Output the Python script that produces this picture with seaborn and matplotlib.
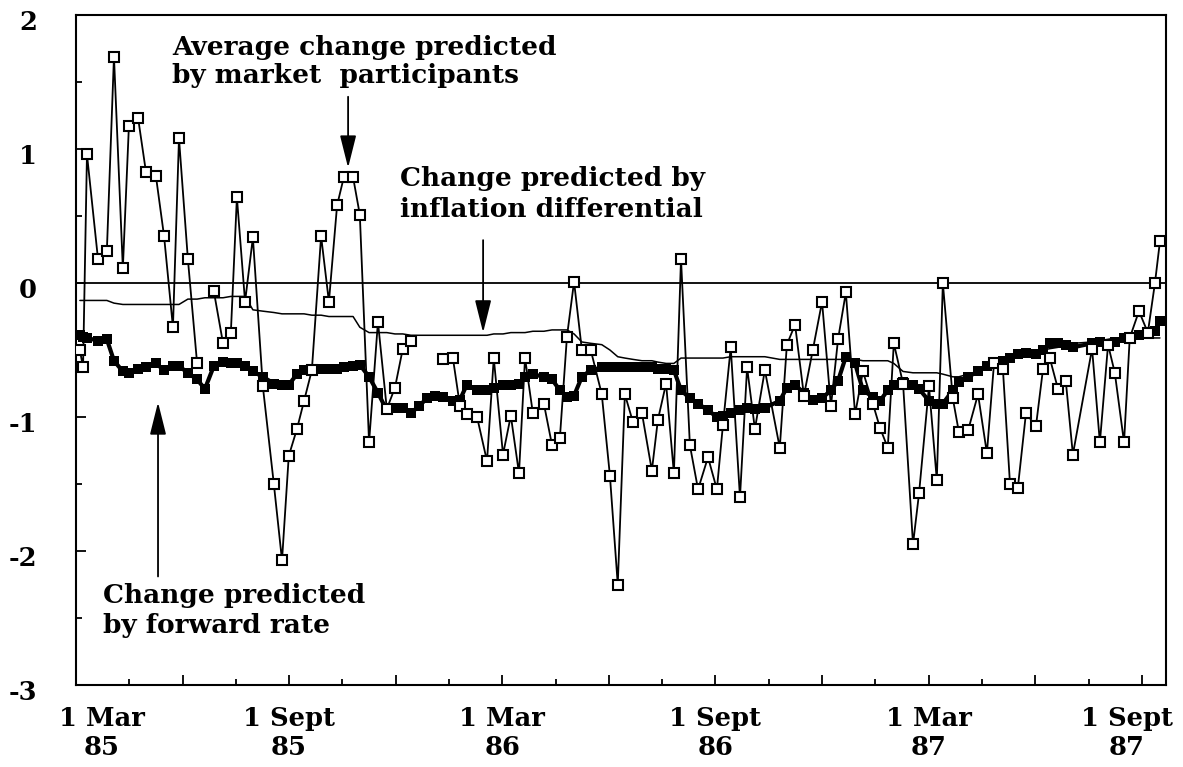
import numpy as np
import pandas as pd
import matplotlib.pyplot as plt
import matplotlib.transforms as mtransforms
import seaborn as sns

# months after 1 March 1985 (weekly observations)
months = [0.11, 0.20, 0.31, 0.62, 0.87, 1.07, 1.32, 1.49, 1.75, 1.97,
          2.25, 2.48, 2.73, 2.90, 3.15, 3.41, 3.63, 3.88, 4.14, 4.36,
          4.53, 4.76, 4.98, 5.26, 5.57, 5.80, 5.99, 6.22, 6.42, 6.64,
          6.90, 7.12, 7.35, 7.54, 7.80, 7.99, 8.25, 8.50, 8.75, 8.98,
          9.20, 9.43, 9.65, 9.88, 10.10, 10.33, 10.61, 10.81, 11.00, 11.29,
          11.57, 11.76, 12.02, 12.24, 12.47, 12.64, 12.86, 13.17, 13.40, 13.62,
          13.82, 14.02, 14.24, 14.49, 14.80, 15.03, 15.25, 15.45, 15.68, 15.93,
          16.21, 16.38, 16.61, 16.83, 17.03, 17.28, 17.51, 17.79, 18.04, 18.21,
          18.43, 18.69, 18.89, 19.11, 19.39, 19.81, 20.01, 20.24, 20.49, 20.74,
          21.00, 21.25, 21.45, 21.67, 21.93, 22.15, 22.43, 22.63, 22.85, 23.02,
          23.28, 23.56, 23.73, 24.01, 24.23, 24.40, 24.68, 24.85, 25.11, 25.39,
          25.64, 25.84, 26.09, 26.29, 26.51, 26.74, 27.02, 27.22, 27.41, 27.64,
          27.86, 28.06, 28.60, 28.82, 29.05, 29.24, 29.50, 29.66, 29.92, 30.17,
          30.37, 30.51]

# average change predicted by market participants (nan = no survey)
market = [-0.50, -0.63, 0.96, 0.18, 0.24, 1.69, 0.11, 1.17, 1.23, 0.83,
          0.80, 0.35, -0.33, 1.08, 0.18, -0.60, np.nan, -0.06, -0.45, -0.37,
          0.64, -0.14, 0.34, -0.77, -1.50, -2.07, -1.29, -1.09, -0.88, -0.65,
          0.35, -0.14, 0.58, 0.79, 0.79, 0.51, -1.19, -0.29, -0.94, -0.78,
          -0.49, -0.43, np.nan, np.nan, np.nan, -0.57, -0.56, -0.92, -0.98, -1.00,
          -1.33, -0.56, -1.28, -0.99, -1.42, -0.56, -0.97, -0.90, -1.21, -1.16,
          -0.40, 0.01, -0.50, -0.50, -0.83, -1.44, -2.25, -0.83, -1.04, -0.97,
          -1.40, -1.02, -0.75, -1.42, 0.18, -1.21, -1.54, -1.30, -1.54, -1.06,
          -0.48, -1.60, -0.63, -1.09, -0.65, -1.23, -0.46, -0.31, -0.84, -0.50,
          -0.14, -0.92, -0.42, -0.07, -0.98, -0.66, -0.90, -1.08, -1.23, -0.45,
          -0.75, -1.95, -1.57, -0.77, -1.47, 0.00, -0.86, -1.11, -1.10, -0.83,
          -1.27, -0.60, -0.64, -1.50, -1.53, -0.97, -1.07, -0.64, -0.56, -0.79,
          -0.73, -1.28, -0.49, -1.19, -0.46, -0.67, -1.19, -0.41, -0.21, -0.37,
          0.00, 0.31]

# change predicted by forward rate
forward = [-0.39, -0.40, -0.41, -0.43, -0.42, -0.58, -0.66, -0.67, -0.64, -0.63,
           -0.60, -0.65, -0.62, -0.62, -0.67, -0.72, -0.79, -0.62, -0.59, -0.60,
           -0.60, -0.62, -0.66, -0.70, -0.75, -0.76, -0.76, -0.68, -0.65, -0.65,
           -0.64, -0.64, -0.64, -0.63, -0.62, -0.61, -0.70, -0.82, -0.95, -0.93,
           -0.93, -0.97, -0.92, -0.86, -0.84, -0.85, -0.88, -0.87, -0.76, -0.80,
           -0.80, -0.78, -0.76, -0.76, -0.75, -0.70, -0.68, -0.70, -0.72, -0.80,
           -0.85, -0.84, -0.70, -0.65, -0.63, -0.63, -0.63, -0.63, -0.63, -0.63,
           -0.63, -0.64, -0.64, -0.65, -0.80, -0.86, -0.90, -0.95, -1.00, -0.99,
           -0.97, -0.95, -0.93, -0.94, -0.93, -0.88, -0.78, -0.76, -0.82, -0.87,
           -0.86, -0.80, -0.73, -0.55, -0.60, -0.80, -0.85, -0.88, -0.80, -0.76,
           -0.74, -0.76, -0.79, -0.88, -0.90, -0.90, -0.80, -0.74, -0.70, -0.66,
           -0.62, -0.60, -0.58, -0.56, -0.53, -0.52, -0.53, -0.50, -0.45, -0.45,
           -0.46, -0.48, -0.45, -0.44, -0.46, -0.44, -0.41, -0.40, -0.39, -0.38,
           -0.36, -0.28]

# change predicted by inflation differential
inflation = [-0.13, -0.13, -0.13, -0.13, -0.13, -0.15, -0.16, -0.16, -0.16, -0.16,
             -0.16, -0.16, -0.16, -0.16, -0.12, -0.12, -0.11, -0.11, -0.11, -0.10,
             -0.10, -0.10, -0.20, -0.21, -0.22, -0.23, -0.23, -0.23, -0.23, -0.24,
             -0.24, -0.25, -0.25, -0.25, -0.25, -0.33, -0.37, -0.37, -0.37, -0.38,
             -0.38, -0.39, -0.39, -0.39, -0.39, -0.39, -0.39, -0.39, -0.39, -0.39,
             -0.39, -0.38, -0.38, -0.37, -0.37, -0.37, -0.36, -0.36, -0.35, -0.35,
             -0.35, -0.38, -0.44, -0.45, -0.46, -0.50, -0.55, -0.56, -0.57, -0.58,
             -0.58, -0.59, -0.60, -0.60, -0.56, -0.56, -0.56, -0.56, -0.56, -0.56,
             -0.55, -0.55, -0.55, -0.55, -0.55, -0.57, -0.57, -0.57, -0.57, -0.57,
             -0.57, -0.57, -0.57, -0.57, -0.57, -0.58, -0.58, -0.58, -0.58, -0.60,
             -0.66, -0.67, -0.67, -0.67, -0.67, -0.68, -0.70, -0.70, -0.68, -0.66,
             -0.63, -0.61, -0.58, -0.56, -0.54, -0.52, -0.51, -0.50, -0.49, -0.48,
             -0.46, -0.45, -0.44, -0.43, -0.42, -0.41, -0.41, -0.41, -0.41, -0.41,
             -0.41, -0.41]

tick_months = [0, 6, 12, 18, 24, 30]
tick_labels = ['1 Mar\n85', '1 Sept\n85', '1 Mar\n86', '1 Sept\n86', '1 Mar\n87', '1 Sept\n87']

df = pd.DataFrame({'month': months, 'market': market,
                   'forward': forward, 'inflation': inflation})
df['seg'] = df['market'].isna().cumsum()

sns.set_theme(style='ticks')
plt.rcParams['font.family'] = ['DejaVu Serif']
plt.rcParams['font.weight'] = 'bold'
plt.rcParams['axes.unicode_minus'] = False
plt.rcParams['text.color'] = 'black'
plt.rcParams['xtick.labelcolor'] = 'black'
plt.rcParams['ytick.labelcolor'] = 'black'

fig = plt.figure(figsize=(11.83, 7.67), dpi=100)
ax = fig.add_axes([0.0642, 0.1069, 0.9214, 0.8735])

ax.axhline(0, color='black', lw=1.3, zorder=1)

sns.lineplot(data=df, x='month', y='inflation', color='black', lw=1.1, ax=ax, zorder=2)
sns.lineplot(data=df, x='month', y='forward', color='black', lw=3,
             marker='s', markersize=6.5, markeredgewidth=0, ax=ax, zorder=3)
mk = df.dropna(subset=['market'])
sns.lineplot(data=mk, x='month', y='market', units='seg', estimator=None,
             color='black', lw=1.3, marker='s', markersize=7.5,
             markerfacecolor='white', markeredgecolor='black', markeredgewidth=1.5,
             ax=ax, zorder=4)

ax.set_xlim(0, 30.68)
ax.set_ylim(-3, 2)
ax.set_xlabel('')
ax.set_ylabel('')

ax.set_yticks(range(-3, 3))
ax.set_yticks([-2.5, -1.5, -0.5, 0.5, 1.5], minor=True)
major_x = np.arange(0, 31, 3)
ax.set_xticks(major_x)
ax.set_xticklabels([tick_labels[tick_months.index(m)] if m in tick_months else '' for m in major_x])
ax.set_xticks(np.arange(1.5, 30, 3), minor=True)

ax.tick_params(which='both', direction='in', color='black', labelcolor='black',
               width=1.3, labelsize=18.5)
ax.tick_params(which='major', length=7.5)
ax.tick_params(which='minor', length=4)
ax.tick_params(axis='y', pad=28)
ax.tick_params(axis='x', pad=15)

for s in ax.spines.values():
    s.set_linewidth(1.5)
    s.set_color('black')

labels = [l for l in ax.get_xticklabels() if l.get_text()]
for l in labels:
    l.set_linespacing(1.2)
labels[0].set_transform(labels[0].get_transform() + mtransforms.ScaledTranslation(0.26, 0, fig.dpi_scale_trans))
labels[-1].set_transform(labels[-1].get_transform() + mtransforms.ScaledTranslation(-0.15, 0, fig.dpi_scale_trans))
for l in ax.get_yticklabels():
    l.set_transform(l.get_transform() + mtransforms.ScaledTranslation(0, -0.05, fig.dpi_scale_trans))

arrow = dict(arrowstyle='-|>,head_length=1.0,head_width=0.25', color='black',
             lw=1.3, shrinkA=0, shrinkB=0, mutation_scale=20)

ax.text(2.70, 1.85, 'Average change predicted\nby market  participants',
        ha='left', va='top', fontsize=19, fontweight='bold', linespacing=1.15)
ax.annotate('', xy=(7.66, 0.86), xytext=(7.66, 1.39), arrowprops=arrow)

ax.text(9.12, 0.87, 'Change predicted by\ninflation differential',
        ha='left', va='top', fontsize=19, fontweight='bold', linespacing=1.3)
ax.annotate('', xy=(11.46, -0.37), xytext=(11.46, 0.32), arrowprops=arrow)

ax.text(0.76, -2.235, 'Change predicted\nby forward rate',
        ha='left', va='top', fontsize=19, fontweight='bold', linespacing=1.26)
ax.annotate('', xy=(2.31, -0.89), xytext=(2.31, -2.19), arrowprops=arrow)

fig.savefig('out.png', dpi=100)
